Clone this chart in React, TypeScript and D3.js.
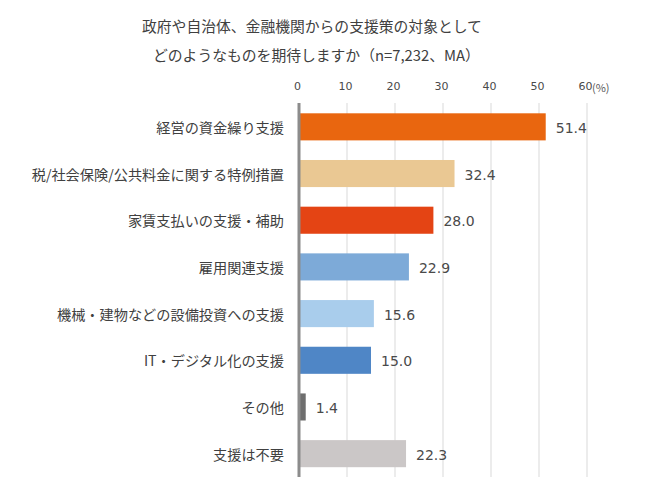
import React from "react";
import * as d3 from "d3";

const titleLines = [
  "政府や自治体、金融機関からの支援策の対象として",
  "どのようなものを期待しますか（n=7,232、MA）",
];
const categories = [
  "経営の資金繰り支援",
  "税/社会保険/公共料金に関する特例措置",
  "家賃支払いの支援・補助",
  "雇用関連支援",
  "機械・建物などの設備投資への支援",
  "IT・デジタル化の支援",
  "その他",
  "支援は不要",
];
const values = [51.4, 32.4, 28.0, 22.9, 15.6, 15.0, 1.4, 22.3];
const colors = [
  "#E9660F",
  "#EAC893",
  "#E44414",
  "#7DAAD8",
  "#A9CDEC",
  "#4F86C6",
  "#6E6E6E",
  "#CBC7C7",
];
const ticks = [0, 10, 20, 30, 40, 50, 60];
const unitLabel = "(%)";

const W = 650;
const H = 502;
const JP = "'Noto Sans CJK JP', 'Noto Sans', sans-serif";
const NUM = "'DejaVu Sans', Verdana, sans-serif";
const TXT = "#404040";

export default function App() {
  const x = d3.scaleLinear().domain([0, 60]).range([299, 587]);
  const y = d3
    .scaleBand<string>()
    .domain(categories)
    .range([103.5, 477])
    .paddingInner(0.42)
    .paddingOuter(0.21);
  const top = 103;
  const bottom = 477;

  return (
    <svg
      width={W}
      height={H}
      style={{ position: "absolute", left: 0, top: 0, background: "#fff" }}
    >
      <rect x={0} y={0} width={W} height={H} fill="#fff" />
      <text x={142} y={25} fontFamily={JP} fontSize={14.8} fill={TXT} dominantBaseline="central">
        {titleLines[0]}
      </text>
      <text x={153} y={54} fontFamily={JP} fontSize={14.8} fill={TXT} dominantBaseline="central">
        {titleLines[1]}
      </text>

      {ticks.slice(1).map((t) => (
        <line key={"g" + t} x1={x(t)} x2={x(t)} y1={top} y2={bottom} stroke="#D9D9D9" strokeWidth={1} />
      ))}
      {ticks.map((t) => (
        <text
          key={"t" + t}
          x={x(t) - 1.5}
          y={86.5}
          textAnchor="middle"
          dominantBaseline="central"
          fontFamily={NUM}
          fontSize={11}
          fill="#4A4A4A"
        >
          {t}
        </text>
      ))}
      <text x={592} y={86.5} dominantBaseline="central" fontFamily={JP} fontSize={11} fill="#595959">
        {unitLabel}
      </text>

      {categories.map((c, i) => (
        <g key={c}>
          <rect
            x={x(0)}
            y={y(c)!}
            width={x(values[i]) - x(0)}
            height={y.bandwidth()}
            fill={colors[i]}
          />
          <text
            x={284}
            y={y(c)! + y.bandwidth() / 2}
            textAnchor="end"
            dominantBaseline="central"
            fontFamily={JP}
            fontSize={14.2}
            fill={TXT}
          >
            {c}
          </text>
          <text
            x={x(values[i]) + 10}
            y={y(c)! + y.bandwidth() / 2 + 1}
            dominantBaseline="central"
            fontFamily={NUM}
            fontSize={14}
            fill="#4A4A4A"
          >
            {values[i].toFixed(1)}
          </text>
        </g>
      ))}
      <line x1={x(0)} x2={x(0)} y1={top} y2={bottom} stroke="#8C8C8C" strokeWidth={3} />
    </svg>
  );
}
